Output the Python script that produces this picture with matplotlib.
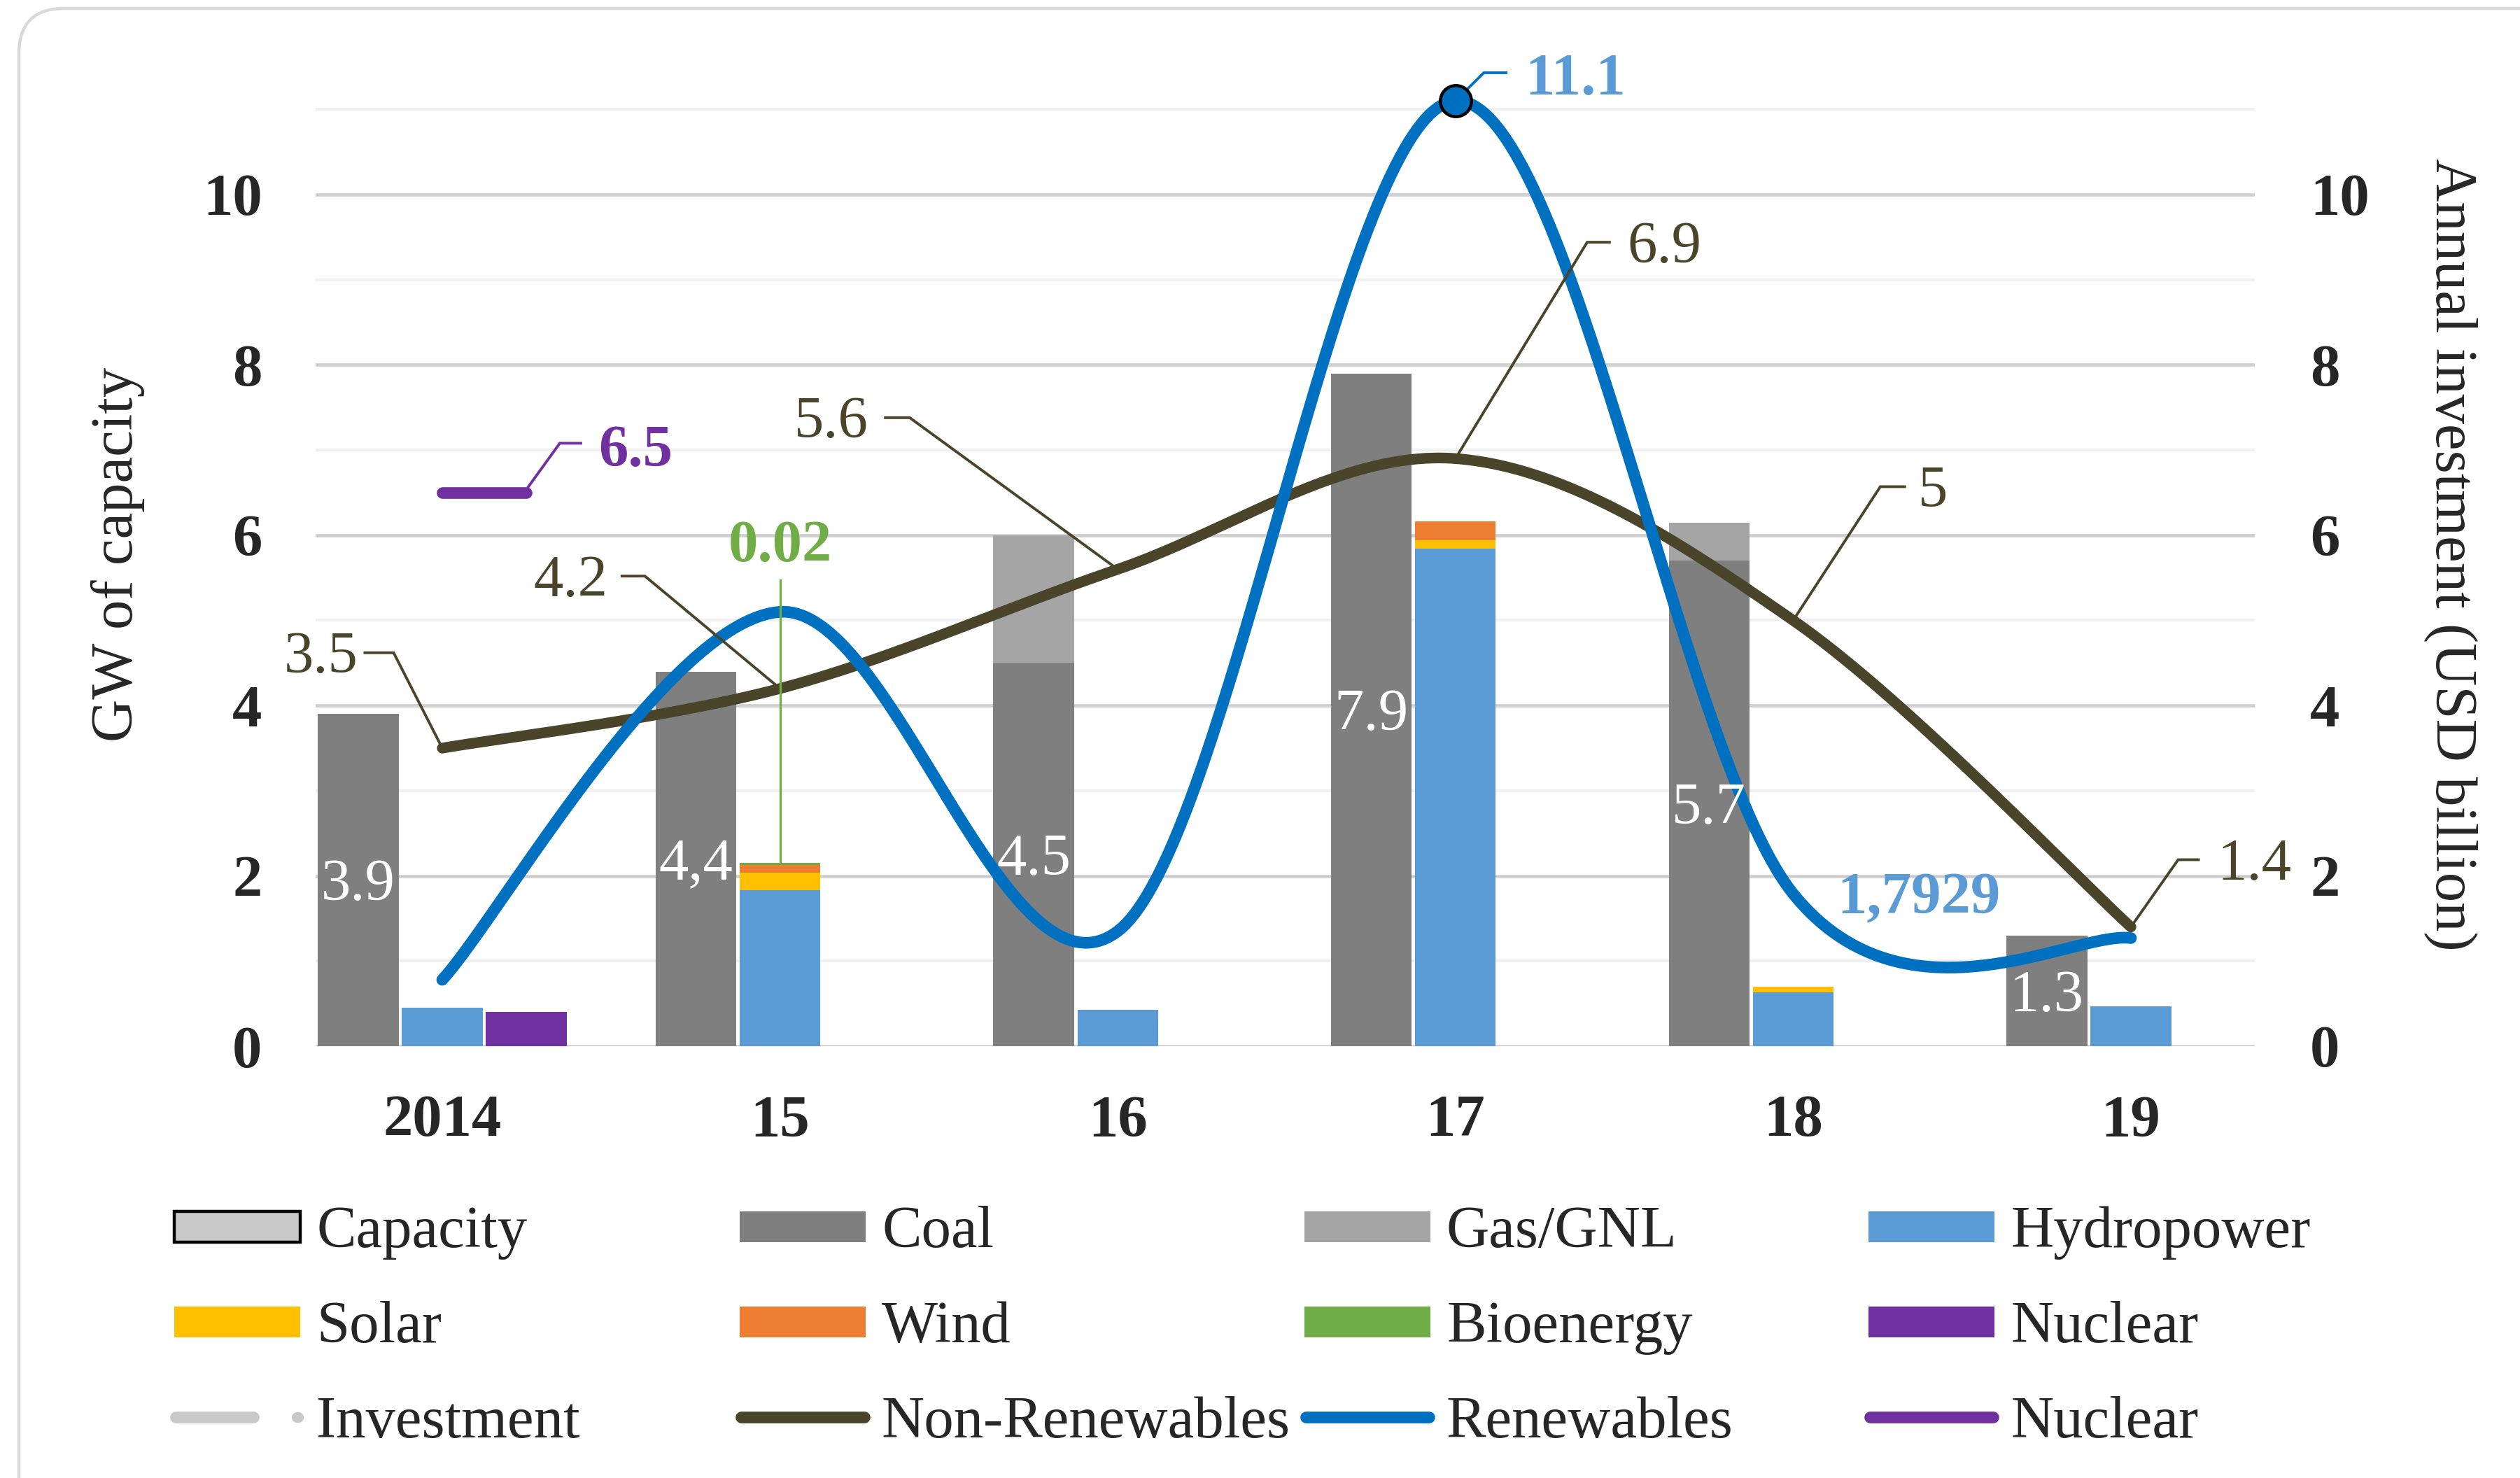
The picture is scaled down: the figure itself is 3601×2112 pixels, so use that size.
import matplotlib
matplotlib.use("Agg")
import matplotlib.pyplot as plt
import matplotlib.transforms as mtransforms
from matplotlib.patches import FancyBboxPatch, Rectangle
from matplotlib.lines import Line2D
import numpy as np

# ---------------- data ----------------
years = ["2014", "15", "16", "17", "18", "19"]
coal = [3.9, 4.4, 4.5, 7.9, 5.7, 1.3]
gas = [0.0, 0.0, 1.5, 0.0, 0.45, 0.0]
hydro = [0.45, 1.83, 0.43, 5.84, 0.63, 0.47]
solar = [0.0, 0.21, 0.0, 0.10, 0.07, 0.0]
wind = [0.0, 0.09, 0.0, 0.22, 0.0, 0.0]
bio = [0.0, 0.02, 0.0, 0.0, 0.0, 0.0]
nuclear_cap = [0.40, 0.0, 0.0, 0.0, 0.0, 0.0]
coal_labels = ["3.9", "4,4", "4.5", "7.9", "5.7", "1.3"]
non_renewables = [3.5, 4.2, 5.6, 6.9, 5.0, 1.4]
non_renew_labels = ["3.5", "4.2", "5.6", "6.9", "5", "1.4"]
renewables = [0.78, 5.1, 1.35, 11.1, 1.79, 1.27]
renew_peak_label = "11.1"
renew_18_label = "1,7929"
bio_label = "0.02"
nuclear_inv = [6.5]
nuclear_inv_label = "6.5"

# ---------------- style ----------------
plt.rcParams['font.family'] = ['Liberation Serif', 'DejaVu Serif']
FS = 61
TXT = '#262626'
C_COAL = '#7f7f7f'
C_GAS = '#a5a5a5'
C_HYDRO = '#5b9bd5'
C_SOLAR = '#ffc000'
C_WIND = '#ed7d31'
C_BIO = '#70ad47'
C_NUC = '#7030a0'
C_NONREN = '#4a442a'
C_REN = '#0070c0'
C_INV = '#c9c9c9'

W, H = 3601, 2112
fig = plt.figure(figsize=(W / 100, H / 100), dpi=100)
pxT = mtransforms.Affine2D().scale(1 / W, 1 / H) + fig.transFigure

# rounded outer border (top / left visible)
border = FancyBboxPatch((27, -200), 3800, H - 12 + 200,
                        boxstyle="round,pad=0,rounding_size=65",
                        transform=pxT, fill=False, edgecolor='#d9d9d9',
                        linewidth=3.2, zorder=0)
fig.add_artist(border)

ax_left, ax_right, ax_bottom = 451, 3222, 1495
unit = 121.7
ymax = 11.55
ax = fig.add_axes([ax_left / W, (H - ax_bottom) / H,
                   (ax_right - ax_left) / W, ymax * unit / H])
ax2 = ax.twinx()

cat = 482.6
ax.set_xlim((ax_left - 632) / cat, (ax_right - 632) / cat)
ax.set_ylim(0, ymax)
ax2.set_ylim(0, ymax)

for a in (ax, ax2):
    for s in a.spines.values():
        s.set_visible(False)

ax.set_yticks(np.arange(0, 11, 2))
ax.set_yticks(np.arange(1, 12, 2), minor=True)
ax.grid(which='major', axis='y', color='#d0d0d0', linewidth=3.4, zorder=0)
ax.grid(which='minor', axis='y', color='#f0f0f0', linewidth=2.9, zorder=0)
ax.set_axisbelow(True)
ax.tick_params(axis='y', which='both', length=0, pad=55, labelsize=FS, labelcolor=TXT)
ax2.set_yticks(np.arange(0, 11, 2))
ax2.tick_params(axis='y', length=0, pad=57, labelsize=FS, labelcolor=TXT)

x = np.arange(len(years))
ax.set_xticks(x, years)
ax.tick_params(axis='x', length=0, pad=50, labelsize=FS, labelcolor=TXT)
for lab in ax.get_xticklabels() + ax.get_yticklabels() + ax2.get_yticklabels():
    lab.set_fontweight('bold')

# ---------------- bars ----------------
w = 0.239
off = 0.249
coal_a = np.array(coal)
hydro_a = np.array(hydro)
solar_a = np.array(solar)
wind_a = np.array(wind)
bio_a = np.array(bio)
ax.bar(x - off, coal, w, color=C_COAL, zorder=2)
ax.bar(x - off, gas, w, bottom=coal_a, color=C_GAS, zorder=2)
ax.bar(x, hydro, w, color=C_HYDRO, zorder=2)
ax.bar(x, solar, w, bottom=hydro_a, color=C_SOLAR, zorder=2)
ax.bar(x, wind, w, bottom=hydro_a + solar_a, color=C_WIND, zorder=2)
ax.bar(x, bio, w, bottom=hydro_a + solar_a + wind_a, color=C_BIO, zorder=2)
ax.bar(x + off, nuclear_cap, w, color=C_NUC, zorder=2)


def ctext(xv, yv, s, color, weight='normal', ha='center', z=10):
    """place text with digits vertically centred on yv"""
    ax.annotate(s, (xv, yv), xytext=(0, -0.338 * FS), textcoords='offset points',
                ha=ha, va='baseline', fontsize=FS, color=color,
                fontweight=weight, zorder=z, annotation_clip=False)


for i, s in enumerate(coal_labels):
    ctext(x[i] - off, coal[i] / 2, s, 'white')


# ---------------- smoothed lines ----------------
def smooth(xs, ys, n=80):
    P = np.column_stack([xs, ys]).astype(float)
    m = len(P)
    out = [P[0]]
    t = np.linspace(0, 1, n)[1:, None]
    for i in range(m - 1):
        p0 = P[i - 1] if i > 0 else P[i]
        p1, p2 = P[i], P[i + 1]
        p3 = P[i + 2] if i + 2 < m else P[i + 1]
        c1 = p1 + (p2 - p0) / 6
        c2 = p2 - (p3 - p1) / 6
        seg = (1 - t) ** 3 * p1 + 3 * (1 - t) ** 2 * t * c1 + 3 * (1 - t) * t ** 2 * c2 + t ** 3 * p2
        out.extend(seg)
    return np.array(out)


nr = smooth(x, non_renewables)
ax.plot(nr[:, 0], nr[:, 1], color=C_NONREN, lw=11, solid_capstyle='round',
        solid_joinstyle='round', zorder=4)
rn = smooth(x, renewables)
ax.plot(rn[:, 0], rn[:, 1], color=C_REN, lw=12, solid_capstyle='round',
        solid_joinstyle='round', zorder=5)
ax.plot([x[0], x[0] + off], [nuclear_inv[0]] * 2, color=C_NUC, lw=12,
        solid_capstyle='round', zorder=5)

ipk = int(np.argmax(renewables))
ax.plot(x[ipk], renewables[ipk], 'o', ms=32, mfc=C_REN, mec='black', mew=3.2,
        zorder=7, clip_on=False)

# ---------------- leader-line data labels ----------------
LW_L = 2.8


def leader(x0, y0, dx, dy, dxe, color, lw=LW_L, z=6):
    ax.plot([x0, x0 + dx, x0 + dxe], [y0, y0 + dy, y0 + dy], color=color, lw=lw,
            solid_joinstyle='miter', zorder=z, clip_on=False)


# (dx corner, dy, dx end of horizontal, dx text anchor, ha)
nr_lab = [(-0.144, 1.12, -0.229, -0.250, 'right'),
          (-0.400, 1.32, -0.468, -0.510, 'right'),
          (-0.616, 1.78, -0.688, -0.738, 'right'),
          (0.390, 2.54, 0.456, 0.508, 'left'),
          (0.258, 1.57, 0.330, 0.370, 'left'),
          (0.140, 0.79, 0.200, 0.255, 'left')]
for i, (dx, dy, dxe, dxt, ha) in enumerate(nr_lab):
    leader(x[i], non_renewables[i], dx, dy, dxe, C_NONREN)
    ctext(x[i] + dxt, non_renewables[i] + dy, non_renew_labels[i], C_NONREN, ha=ha)

# renewables peak
leader(x[ipk], renewables[ipk], 0.084, 0.33, 0.15, C_REN)
ctext(x[ipk] + 0.207, renewables[ipk] + 0.31, renew_peak_label, C_HYDRO, weight='bold', ha='left')

# renewables 18
ctext(x[4] + 0.13, renewables[4], renew_18_label, C_HYDRO, weight='bold', ha='left')

# bioenergy
ib = int(np.argmax(bio))
top_b = hydro[ib] + solar[ib] + wind[ib] + bio[ib]
ax.plot([x[ib], x[ib]], [top_b, 5.47], color=C_BIO, lw=2.4, zorder=6)
ctext(x[ib], 5.93, bio_label, C_BIO, weight='bold')

# nuclear investment
leader(x[0] + off + 0.006, nuclear_inv[0] + 0.07, 0.093, 0.51, 0.155, C_NUC)
ctext(x[0] + 0.462, nuclear_inv[0] + 0.55, nuclear_inv_label, C_NUC, weight='bold', ha='left')

# ---------------- axis titles ----------------
ax.text((168 - ax_left) / (ax_right - ax_left), 0.5, "GW of capacity", transform=ax.transAxes,
        rotation=90, ha='center', va='center', fontsize=FS, color=TXT)
ax.text((3502 - ax_left) / (ax_right - ax_left), 0.5, "Annual investment (USD billion)",
        transform=ax.transAxes, rotation=270, ha='center', va='center', fontsize=FS, color=TXT)

# ---------------- legend (drawn manually, Excel-style grid) ----------------
cols = [249, 1057, 1864, 2670]
rows = [1753, 1889, 2025]
entries = [
    [("patch", '#c8c8c8', "Capacity", True), ("patch", C_COAL, "Coal", False),
     ("patch", C_GAS, "Gas/GNL", False), ("patch", C_HYDRO, "Hydropower", False)],
    [("patch", C_SOLAR, "Solar", False), ("patch", C_WIND, "Wind", False),
     ("patch", C_BIO, "Bioenergy", False), ("patch", C_NUC, "Nuclear", False)],
    [("dash", C_INV, "Investment", False), ("line", C_NONREN, "Non-Renewables", False),
     ("line", C_REN, "Renewables", False), ("line", C_NUC, "Nuclear", False)],
]
for r, row in enumerate(entries):
    yc = H - rows[r]
    for c, (kind, col, label, edge) in enumerate(row):
        cx = cols[c]
        if kind == "patch":
            fig.add_artist(Rectangle((cx, yc - 22), 180, 44, transform=pxT,
                                     facecolor=col,
                                     edgecolor='black' if edge else 'none',
                                     linewidth=3.2 if edge else 0))
        elif kind == "line":
            fig.add_artist(Line2D([cx + 2, cx + 178], [yc, yc], transform=pxT, color=col,
                                  lw=12, solid_capstyle='round'))
        else:
            fig.add_artist(Line2D([cx + 2, cx + 113], [yc, yc], transform=pxT, color=col,
                                  lw=12, solid_capstyle='round'))
            fig.add_artist(Line2D([cx + 175, cx + 177], [yc, yc], transform=pxT, color=col,
                                  lw=11, solid_capstyle='round'))
        fig.text((cx + 203) / W, (yc - 29) / H, label, fontsize=FS, color=TXT,
                 ha='left', va='baseline')

fig.savefig("out.png", dpi=100, facecolor='white')
